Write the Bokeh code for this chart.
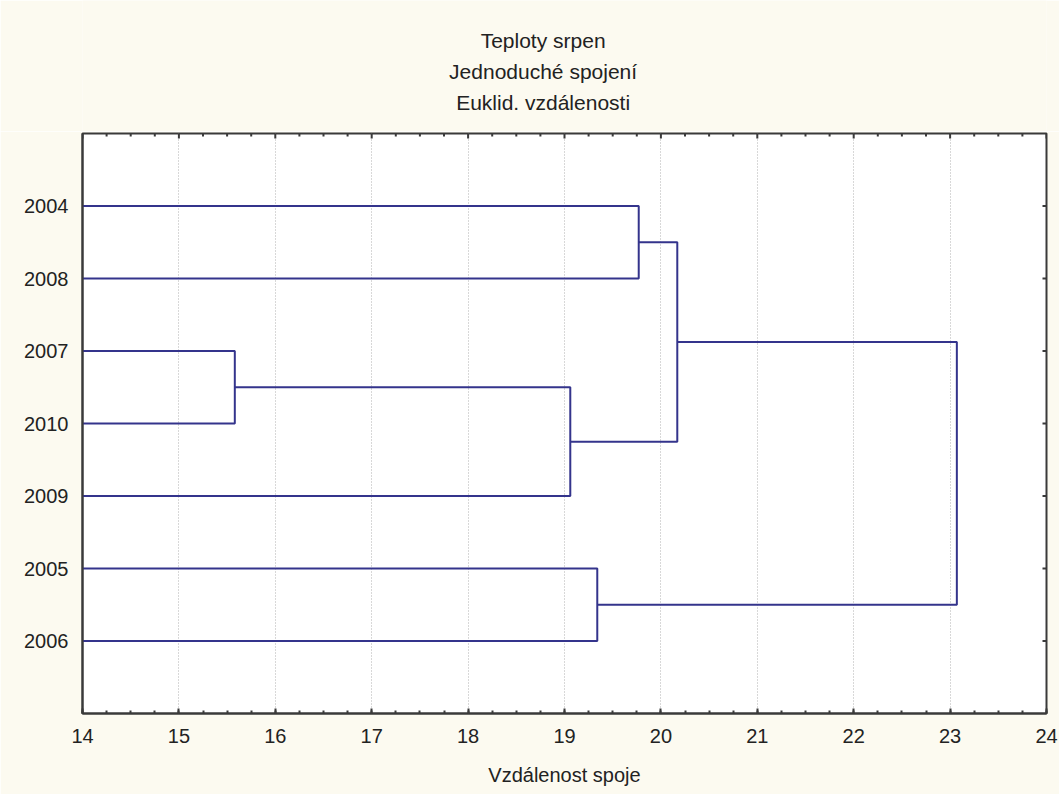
import math
from bokeh.plotting import figure
from bokeh.layouts import column
from bokeh.models import Range1d, LinearAxis, SingleIntervalTicker, FixedTicker, Grid
from bokeh.core.properties import value
from bokeh.embed import file_html
from bokeh.resources import INLINE

# ---- data ----
title_lines = ["Teploty srpen", "Jednoduché spojení", "Euklid. vzdálenosti"]
x_label = "Vzdálenost spoje"
leaves = ["2004", "2008", "2007", "2010", "2009", "2005", "2006"]
merge_left = ["2007", "C1", "2005", "2004", "C4", "C5"]
merge_right = ["2010", "2009", "2006", "2008", "C2", "C3"]
merge_dist = [15.58, 19.06, 19.34, 19.77, 20.17, 23.07]
x_min, x_max = 14, 24
x_major = list(range(14, 25))
x_minor = [14 + i * 0.25 for i in range(41) if i % 4 != 0]

# ---- dendrogram geometry from linkage ----
pos = {name: i + 1 for i, name in enumerate(leaves)}
hgt = {name: x_min for name in leaves}
xs, ys = [], []
for k, (a, b, d) in enumerate(zip(merge_left, merge_right, merge_dist)):
    cid = "C%d" % (k + 1)
    xs.append([hgt[a], d, d, hgt[b]])
    ys.append([pos[a], pos[a], pos[b], pos[b]])
    pos[cid] = (pos[a] + pos[b]) / 2
    hgt[cid] = d

FONT = "Liberation Sans"
BG = "#FCFAF0"
AX = "#3A3A3A"
TXT = "#222222"
W, H, TH = 1059, 794, 131
y_top, y_bot = 0, len(leaves) + 1

# ---- title strip (pixel-mapped ranges) ----
t = figure(width=W, height=TH, output_backend="svg", toolbar_location=None,
           x_range=Range1d(0, W), y_range=Range1d(TH, 0),
           x_axis_location=None, y_axis_location=None,
           min_border=0, min_border_left=0, min_border_right=0, min_border_top=0, min_border_bottom=0)
t.background_fill_color = BG
t.border_fill_color = BG
t.outline_line_color = None
t.xgrid.visible = False
t.ygrid.visible = False
t.title = None
t.text(x=[506] * len(title_lines), y=[40, 71, 102], text=title_lines,
       text_align="center", text_baseline="middle", text_font=value(FONT),
       text_font_size="21px", text_color=TXT)

# ---- main plot ----
p = figure(width=W, height=H - TH, output_backend="svg", toolbar_location=None,
           x_range=Range1d(x_min, x_max), y_range=Range1d(y_bot, y_top),
           x_axis_location=None, y_axis_location=None,
           min_border_left=82, min_border_right=13, min_border_top=2, min_border_bottom=81)
p.background_fill_color = "white"
p.border_fill_color = BG
p.outline_line_color = AX
p.outline_line_width = 2
p.title = None

xticker = SingleIntervalTicker(interval=1, num_minor_ticks=4)
yticker = FixedTicker(ticks=list(range(1, len(leaves) + 1)))

bottom = LinearAxis(ticker=xticker, axis_label=x_label)
left = LinearAxis(ticker=yticker, major_label_overrides={i + 1: n for i, n in enumerate(leaves)})
for ax in (bottom, left):
    ax.axis_line_color = AX
    ax.axis_line_width = 2
    ax.major_tick_line_color = AX
    ax.minor_tick_line_color = AX
    ax.major_tick_line_width = 2
    ax.minor_tick_line_width = 2
    ax.major_tick_out = 0
    ax.minor_tick_out = 0
    ax.major_label_text_font = FONT
    ax.major_label_text_color = TXT
    ax.major_label_text_font_size = "20px"
bottom.major_tick_in = 5
bottom.minor_tick_in = 3
bottom.major_label_standoff = 15
bottom.axis_label_text_font = FONT
bottom.axis_label_text_font_size = "20px"
bottom.axis_label_text_font_style = "normal"
bottom.axis_label_text_color = TXT
bottom.axis_label_standoff = 18
left.major_tick_in = 0
left.minor_tick_in = 0
left.major_label_standoff = 14
p.add_layout(bottom, "below")
p.add_layout(left, "left")

p.xgrid.visible = False
p.ygrid.visible = False
p.add_layout(Grid(dimension=0, ticker=xticker, grid_line_color="#B0B0B0",
                  grid_line_dash="1 2", grid_line_width=1))

# inward ticks on top and right frame edges
p.scatter(x=x_major, y=[y_top] * len(x_major), marker="dash", angle=math.pi / 2,
          size=10, line_color=AX, line_width=2)
p.scatter(x=x_minor, y=[y_top] * len(x_minor), marker="dash", angle=math.pi / 2,
          size=6, line_color=AX, line_width=2)
p.scatter(x=[x_max] * len(leaves), y=list(range(1, len(leaves) + 1)), marker="dash",
          size=8, line_color=AX, line_width=2)

p.multi_line(xs, ys, line_color="#34348C", line_width=2)

layout = column(t, p, spacing=0)
open("out.html", "w").write(file_html(layout, INLINE))
